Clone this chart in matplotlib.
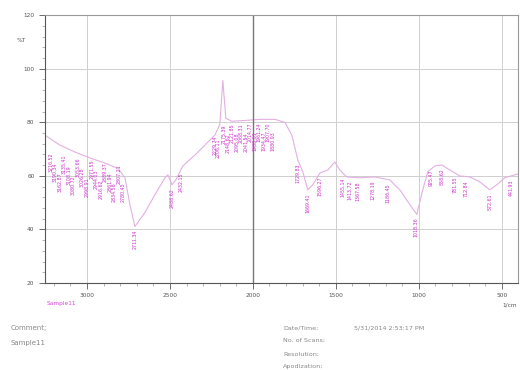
import matplotlib
matplotlib.use("Agg")
import matplotlib.pyplot as plt
from matplotlib.ticker import MultipleLocator, FixedLocator

# spectrum trace (wavenumber 1/cm, %T)
wavenumber = [3253, 3163, 3072, 2982, 2892, 2813, 2771, 2741, 2711, 2651, 2590, 2530,
              2512, 2488, 2464, 2422, 2349, 2289, 2229, 2199, 2181, 2163, 2127, 2048,
              1958, 1867, 1807, 1765, 1729, 1699, 1669, 1639, 1596, 1548, 1506, 1476,
              1434, 1355, 1265, 1175, 1114, 1054, 1012, 976, 946, 904, 861, 813, 753,
              693, 633, 572, 524, 482, 404]
transmittance = [75.2, 71.5, 68.9, 66.7, 64.8, 62.8, 59.3, 49.3, 41.1, 46.3, 53.0, 59.3,
                 60.4, 56.7, 58.5, 63.7, 67.8, 71.5, 75.2, 79.3, 95.6, 81.5, 80.4, 80.7,
                 81.1, 81.1, 80.0, 75.2, 65.9, 61.5, 54.8, 56.7, 61.1, 62.2, 65.2, 62.2,
                 59.6, 59.3, 59.6, 58.5, 54.8, 49.3, 45.6, 54.8, 61.5, 63.7, 64.1, 62.2,
                 60.0, 59.6, 57.8, 54.8, 57.0, 59.3, 60.7]

# labelled peaks, left cluster (3 stacked rows in the printout)
cluster1_wn = [3216.52, 3190.34, 3162.87, 3135.41, 3108.19, 3080.72, 3053.66, 3026.28,
               2998.91, 2971.55, 2944.03, 2916.62, 2889.37, 2861.94, 2834.58, 2807.21,
               2780.45]
cluster1_t = [69.8, 69.5, 69.2, 68.9, 68.6, 68.3, 68.0, 67.7, 67.4, 67.1, 66.8, 66.5,
              66.2, 65.9, 65.6, 65.3, 62.0]

# labelled peaks, plateau cluster
cluster2_wn = [2229.74, 2206.11, 2175.39, 2148.62, 2121.85, 2095.08, 2068.31, 2041.54,
               2014.77, 1988.01, 1961.24, 1934.47, 1907.70, 1880.93]
cluster2_t = [76.0, 78.5, 80.2, 80.4, 80.5, 80.6, 80.7, 80.8, 80.9, 81.0, 81.1, 81.1,
              81.1, 81.1]

# isolated labelled peaks
peak_wn = [2711.34, 2488.62, 2432.15, 1729.83, 1669.41, 1596.27, 1455.14, 1413.72,
           1367.58, 1278.19, 1186.45, 1018.36, 925.47, 858.62, 781.55, 712.84, 572.61,
           441.93]
peak_t = [41.1, 56.7, 62.5, 65.9, 54.8, 61.1, 60.5, 59.5, 59.3, 59.6, 58.5, 45.6, 63.7,
          64.1, 61.2, 59.6, 54.8, 60.0]

yticks = [20, 40, 60, 80, 100, 120]
xticks = [3000, 2500, 2000, 1500, 1000, 500]

fig = plt.figure(figsize=(5.2, 3.7), dpi=100)
ax = fig.add_axes([0.0865, 0.235, 0.909, 0.724])

ax.plot(wavenumber, transmittance, color="#e2b0e2", lw=0.8)
ax.set_xlim(3253, 404)
ax.set_ylim(20, 120)

ax.xaxis.set_major_locator(FixedLocator(xticks))
ax.xaxis.set_minor_locator(MultipleLocator(100))
ax.yaxis.set_major_locator(FixedLocator(yticks))
ax.yaxis.set_minor_locator(MultipleLocator(4))
ax.set_xticklabels([str(v) for v in xticks])
ax.set_yticklabels([str(v) for v in yticks])
ax.tick_params(axis="both", which="major", labelsize=4.2, colors="#555555", length=4,
               width=0.6, direction="out")
ax.tick_params(axis="both", which="minor", length=2, width=0.4, colors="#777777",
               direction="out")
ax.grid(True, which="major", color="#cfcfcf", lw=0.7)
ax.axvline(2000, color="#777777", lw=1.0)
for s in ax.spines.values():
    s.set_color("#999999")
    s.set_linewidth(0.8)
ax.spines["left"].set_color("#555555")
ax.spines["bottom"].set_color("#555555")

ax.text(-0.04, 0.905, "%T", transform=ax.transAxes, fontsize=4.2, color="#555555",
        ha="right", va="center")

lab_kw = dict(rotation=90, fontsize=3.4, color="#cc30cc", ha="center", va="top")
for i, (w, t) in enumerate(zip(cluster1_wn, cluster1_t)):
    ax.text(w, t - 1.0 - 3.5 * (i % 3), f"{w:.2f}", **lab_kw)
for i, (w, t) in enumerate(zip(cluster2_wn, cluster2_t)):
    ax.text(w, t - 1.0 - 3.5 * (i % 2), f"{w:.2f}", **lab_kw)
for w, t in zip(peak_wn, peak_t):
    ax.text(w, t - 1.2, f"{w:.2f}", **lab_kw)

fig.text(0.09, 0.175, "Sample11", fontsize=4.2, color="#dd44dd")
fig.text(0.995, 0.172, "1/cm", fontsize=4.2, color="#555555", ha="right")

tc = "#888888"
fig.text(0.02, 0.108, "Comment;", fontsize=5, color=tc)
fig.text(0.02, 0.068, "Sample11", fontsize=5, color=tc)
fig.text(0.545, 0.11, "Date/Time;", fontsize=4.6, color=tc)
fig.text(0.68, 0.11, "5/31/2014 2:53:17 PM", fontsize=4.6, color=tc)
fig.text(0.545, 0.075, "No. of Scans;", fontsize=4.6, color=tc)
fig.text(0.545, 0.038, "Resolution;", fontsize=4.6, color=tc)
fig.text(0.545, 0.005, "Apodization;", fontsize=4.6, color=tc)

fig.savefig("out.png", dpi=100)
